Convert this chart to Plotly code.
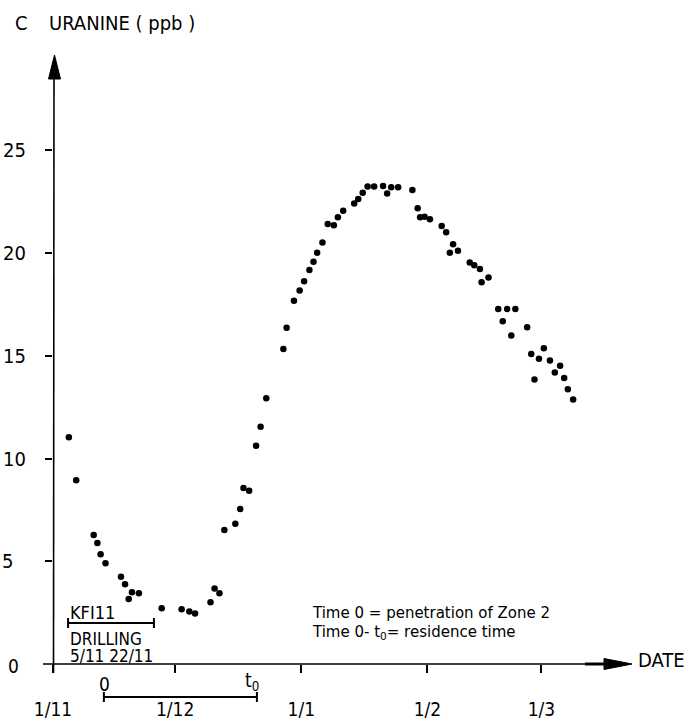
import plotly.graph_objects as go

# ---- data (days since 1 Nov, uranine concentration in ppb) ----
days = [3.9, 5.7, 10.0, 10.9, 11.7, 12.9, 16.7, 17.7, 18.6, 19.4,
        21.1, 26.7, 31.6, 33.5, 34.9, 38.7, 39.7, 40.9, 42.1, 44.8,
        46.0, 46.8, 48.2, 49.9, 51.0, 52.4, 56.6, 57.4, 59.2, 60.6,
        61.7, 63.0, 64.0, 64.9, 66.2, 67.5, 69.0, 70.0, 71.3, 74.0,
        75.0, 76.1, 77.3, 78.9, 81.1, 82.1, 83.1, 84.8, 88.3, 89.6,
        90.2, 91.3, 92.6, 95.5, 96.6, 97.5, 98.3, 99.5, 102.4, 103.5,
        104.9, 105.3, 107.0, 109.4, 110.5, 111.6, 112.6, 113.6, 116.5, 117.5,
        118.3, 119.4, 120.6, 122.1, 123.3, 124.6, 125.6, 126.5, 127.8]
ppb = [11.03, 8.94, 6.28, 5.89, 5.34, 4.90, 4.25, 3.88, 3.16, 3.49,
       3.44, 2.71, 2.66, 2.56, 2.46, 3.00, 3.68, 3.44, 6.52, 6.83,
       7.54, 8.57, 8.43, 10.62, 11.54, 12.93, 15.33, 16.36, 17.68, 18.18,
       18.62, 19.17, 19.58, 20.01, 20.51, 21.41, 21.35, 21.74, 22.06, 22.41,
       22.63, 22.93, 23.23, 23.23, 23.26, 22.90, 23.20, 23.20, 23.07, 22.18,
       21.74, 21.77, 21.64, 21.31, 21.01, 20.01, 20.43, 20.11, 19.54, 19.40,
       19.22, 18.58, 18.81, 17.28, 16.68, 17.28, 15.98, 17.28, 16.39, 15.09,
       13.85, 14.85, 15.37, 14.77, 14.18, 14.51, 13.92, 13.37, 12.87]

x_tick_days = [0, 30, 61, 92, 120]
x_tick_labels = ["1/11", "1/12", "1/1", "1/2", "1/3"]
y_tick_vals = [5, 10, 15, 20, 25]
y_tick_labels = ["5\u2002\u2009", "10", "15", "20", "25"]

drilling_days = [3.7, 24.8]      # KFI11 drilling bar (5/11 - 22/11)
residence_days = [12.5, 50.1]    # time 0 - t0

# ---- layout geometry (pixels) ----
W, H = 692, 721
L, R, T, B = 53, 632, 55, 664
XSCALE = 4.07   # px per day
YSCALE = 20.55  # px per ppb
XMAX = (R - L) / XSCALE
YMAX = (B - T) / YSCALE

def xp(p):
    return (p - L) / (R - L)

def yp(p):
    return (B - p) / (B - T)

def dx(d):
    return d / XMAX

TECH = "Liberation Sans Narrow, DejaVu Sans Condensed, Arial Narrow, DejaVu Sans"
ROUND = "DejaVu Sans"

fig = go.Figure()
fig.add_trace(go.Scatter(
    x=days, y=ppb, mode="markers",
    marker=dict(color="black", size=6.5, line=dict(width=0)),
    cliponaxis=False, showlegend=False, hoverinfo="skip"))

shapes = []
lw = 1.6
# axes lines
shapes.append(dict(type="line", xref="paper", yref="paper",
                   x0=xp(53.5), x1=xp(54), y0=yp(673), y1=yp(76),
                   line=dict(color="black", width=lw)))
shapes.append(dict(type="line", xref="paper", yref="paper",
                   x0=xp(43), x1=xp(608), y0=yp(664), y1=yp(664),
                   line=dict(color="black", width=lw)))
shapes.append(dict(type="line", xref="paper", yref="paper",
                   x0=xp(585), x1=xp(608), y0=yp(664), y1=yp(664),
                   line=dict(color="black", width=3)))
# arrowheads
shapes.append(dict(type="path", xref="paper", yref="paper",
                   path=f"M {xp(54.5)},{yp(55)} L {xp(48.5)},{yp(79)} L {xp(60.5)},{yp(79)} Z",
                   fillcolor="black", line=dict(color="black", width=1)))
shapes.append(dict(type="path", xref="paper", yref="paper",
                   path=f"M {xp(632)},{yp(664)} L {xp(604)},{yp(658.5)} L {xp(604)},{yp(669.5)} Z",
                   fillcolor="black", line=dict(color="black", width=1)))

def bracket(d0, d1, ypx, half=5):
    out = []
    out.append(dict(type="line", xref="paper", yref="paper",
                    x0=dx(d0), x1=dx(d1), y0=yp(ypx), y1=yp(ypx),
                    line=dict(color="black", width=2)))
    for d in (d0, d1):
        out.append(dict(type="line", xref="paper", yref="paper",
                        x0=dx(d), x1=dx(d), y0=yp(ypx - half), y1=yp(ypx + half),
                        line=dict(color="black", width=2)))
    return out

shapes += bracket(drilling_days[0], drilling_days[1], 623)
shapes += bracket(residence_days[0], residence_days[1], 697)

def txt(text, left, cy, size, family=TECH, anchor="left"):
    return dict(text=text, xref="paper", yref="paper", x=xp(left), y=yp(cy),
                xanchor=anchor, yanchor="middle", showarrow=False, borderpad=0,
                font=dict(family=family, size=size, color="black"))

annotations = [
    txt("C", 14, 23, 20),
    txt("URANINE ( ppb )", 48, 23, 20),
    txt("0", 7, 666, 19),
    txt("KFI11", 69, 612, 18),
    txt("DRILLING", 69, 639, 17),
    txt("5/11 22/11", 69, 656, 17),
    txt("Time 0 = penetration of Zone 2", 311, 613, 15, ROUND),
    txt("Time 0- t<sub>0</sub>= residence time", 311, 632, 15, ROUND),
    txt("0", 104, 684, 19, anchor="center"),
    txt("t<sub>0</sub>", 244, 681, 19),
    txt("DATE", 637, 660, 20),
]

fig.update_layout(
    width=W, height=H, autosize=False,
    margin=dict(l=L, r=W - R, t=T, b=H - B, pad=0),
    paper_bgcolor="white", plot_bgcolor="white",
    shapes=shapes, annotations=annotations,
    xaxis=dict(range=[0, XMAX], showgrid=False, zeroline=False, showline=False,
               automargin=False,
               tickmode="array", tickvals=x_tick_days, ticktext=x_tick_labels,
               ticks="outside", ticklen=8, tickwidth=1.5, tickcolor="black",
               ticklabelstandoff=20,
               tickfont=dict(family=TECH, size=19, color="black")),
    yaxis=dict(range=[0, YMAX], showgrid=False, zeroline=False, showline=False,
               automargin=False,
               tickmode="array", tickvals=y_tick_vals, ticktext=y_tick_labels,
               ticks="outside", ticklen=7, tickwidth=1.5, tickcolor="black",
               ticklabelstandoff=15,
               tickfont=dict(family=TECH, size=20, color="black")),
)

fig.write_html("out.html", config={"displayModeBar": False},
               post_script="document.body.style.margin='0';document.body.style.overflow='hidden';")
